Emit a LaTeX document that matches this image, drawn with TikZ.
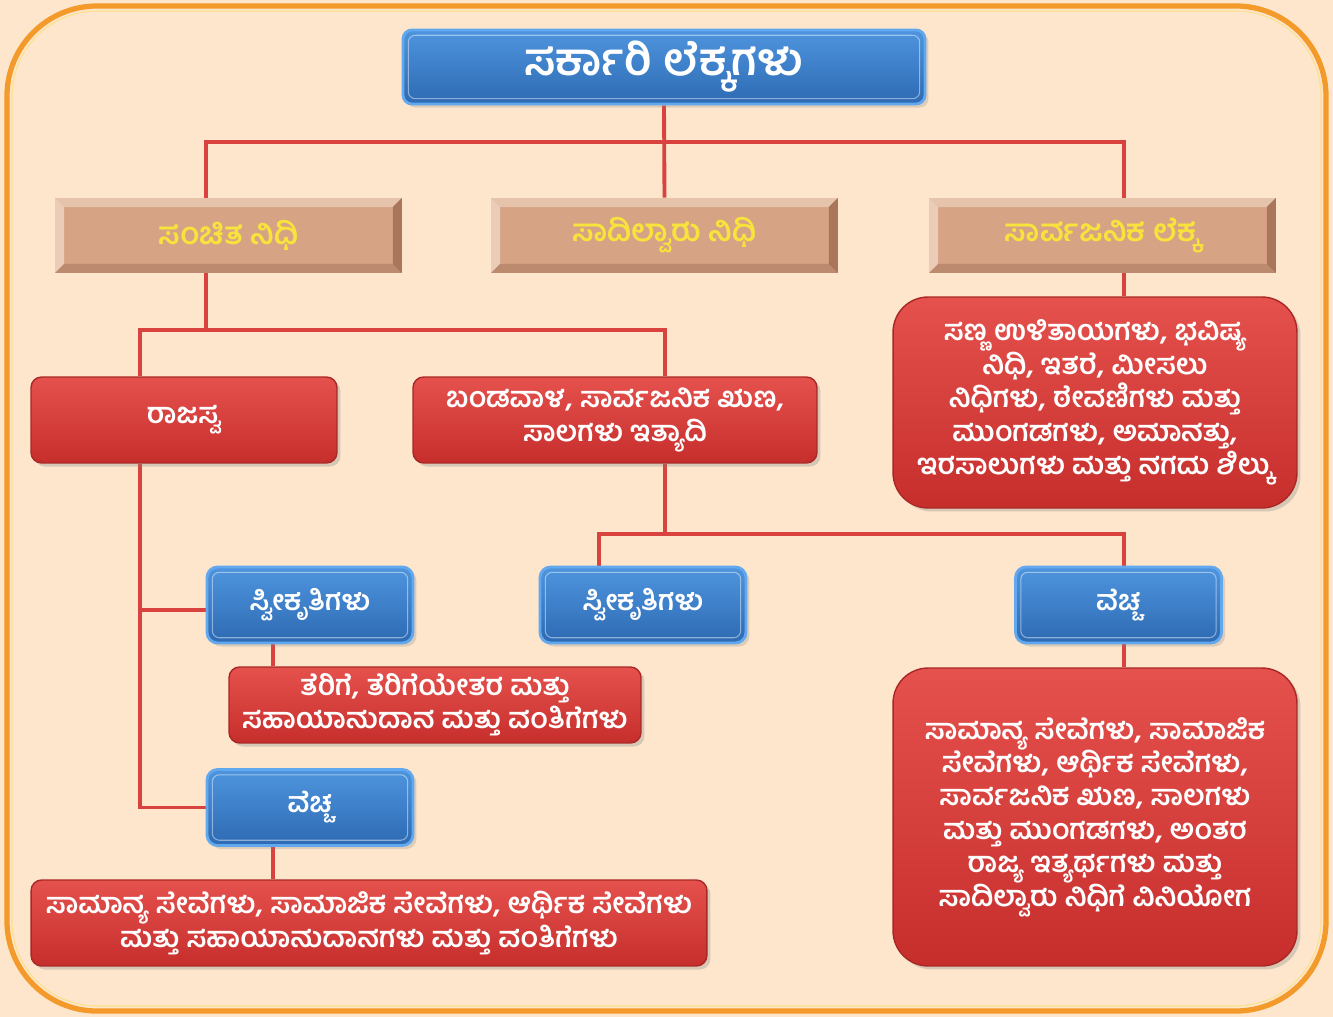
\documentclass[tikz,border=0pt]{standalone}
\usepackage{fontspec}
\newfontfamily\kan[Script=Kannada]{Hind Mysuru}
\usetikzlibrary{positioning, backgrounds, shadows, calc}
\definecolor{pagebg}{HTML}{FDE6CC}
\definecolor{rimorange}{HTML}{F39A2B}
\definecolor{rimyellow}{HTML}{FBD35A}
\definecolor{linkred}{HTML}{D8433F}
\definecolor{redtop}{HTML}{E5514D}
\definecolor{redbot}{HTML}{C62E2C}
\definecolor{rededge}{HTML}{A92825}
\definecolor{bluetop}{HTML}{4E95DE}
\definecolor{bluebot}{HTML}{2D6AB3}
\definecolor{blueedge}{HTML}{62A8EE}
\definecolor{tanface}{HTML}{D6A385}
\definecolor{tanlight}{HTML}{E6C3AB}
\definecolor{tandark}{HTML}{A9765C}
\definecolor{tanlow}{HTML}{BC8A6E}
\definecolor{goldtext}{HTML}{F8E33C}

\begin{document}
\begin{tikzpicture}[
    x=0.02cm, y=-0.02cm,
    every node/.style = {font=\kan\bfseries, align=center, inner sep=2pt},
    headbox/.style = {rounded corners=5pt, top color=bluetop, bottom color=bluebot,
                      draw=blueedge, line width=1.6pt, text=white,
                      minimum width=10.44cm, minimum height=1.48cm,
                      font=\kan\bfseries\fontsize{25.5}{28}\selectfont,
                      drop shadow={opacity=0.25, shadow xshift=2pt, shadow yshift=-2pt},
                      path picture={\draw[white, opacity=0.45, line width=0.6pt, rounded corners=4pt]
                        ([shift={(3pt,-3pt)}]path picture bounding box.north west) rectangle
                        ([shift={(-3pt,3pt)}]path picture bounding box.south east);}},
    fundbox/.style = {fill=tanface, text=goldtext, inner sep=0pt,
                      minimum width=6.94cm, minimum height=1.5cm,
                      font=\kan\bfseries\fontsize{17.5}{20}\selectfont,
                      path picture={
                        \path (path picture bounding box.north west) coordinate (bnw)
                              (path picture bounding box.south east) coordinate (bse);
                        \fill[tanlight] (bnw) -- (bnw -| bse) -- ([shift={(-0.18cm,-0.18cm)}]bnw -| bse)
                              -- ([shift={(0.18cm,-0.18cm)}]bnw) -- cycle;
                        \fill[tanlight!85!white] (bnw) -- (bnw |- bse) -- ([shift={(0.18cm,0.18cm)}]bnw |- bse)
                              -- ([shift={(0.18cm,-0.18cm)}]bnw) -- cycle;
                        \fill[tanlow] (bse) -- (bnw |- bse) -- ([shift={(0.18cm,0.18cm)}]bnw |- bse)
                              -- ([shift={(-0.18cm,0.18cm)}]bse) -- cycle;
                        \fill[tandark] (bse) -- (bnw -| bse) -- ([shift={(-0.18cm,-0.18cm)}]bnw -| bse)
                              -- ([shift={(-0.18cm,0.18cm)}]bse) -- cycle;}},
    partbox/.style = {rounded corners=6pt, top color=redtop, bottom color=redbot,
                      draw=rededge, line width=0.8pt, text=white,
                      font=\kan\bfseries\fontsize{16.2}{19}\selectfont,
                      drop shadow={opacity=0.3, shadow xshift=2pt, shadow yshift=-2pt}},
    bigpart/.style = {partbox, rounded corners=20pt},
    flowbox/.style = {rounded corners=6pt, top color=bluetop, bottom color=bluebot,
                      draw=blueedge, line width=1.6pt, text=white,
                      minimum width=4.12cm, minimum height=1.52cm,
                      font=\kan\bfseries\fontsize{16}{19}\selectfont,
                      drop shadow={opacity=0.25, shadow xshift=2pt, shadow yshift=-2pt},
                      path picture={\draw[white, opacity=0.45, line width=0.6pt, rounded corners=4pt]
                        ([shift={(3pt,-3pt)}]path picture bounding box.north west) rectangle
                        ([shift={(-3pt,3pt)}]path picture bounding box.south east);}},
    link/.style = {draw=linkred, line width=2.2pt},
]
\useasboundingbox (0,0) rectangle (1333,1017);

% top
\node[headbox] (govacc) at (664,67) {\raisebox{-2pt}{ಸರ್ಕಾರಿ ಲೆಕ್ಕಗಳು}};

% three funds
\node[fundbox] (consol) at (228.5,235.5) {ಸಂಚಿತ ನಿಧಿ};
\node[fundbox] (conting) at (664.5,235.5) {ಸಾದಿಲ್ವಾರು ನಿಧಿ};
\node[fundbox] (public) at (1102.5,235.5) {ಸಾರ್ವಜನಿಕ ಲೆಕ್ಕ};

% consolidated fund parts
\node[partbox, minimum width=6.12cm, minimum height=1.72cm] (revenue) at (184,420) {ರಾಜಸ್ವ};
\node[partbox, minimum width=8.08cm, minimum height=1.72cm] (capital) at (615,420)
    {ಬಂಡವಾಳ, ಸಾರ್ವಜನಿಕ ಋಣ,\\ ಸಾಲಗಳು ಇತ್ಯಾದಿ};
\node[bigpart, minimum width=8.08cm, minimum height=4.22cm] (pubitems) at (1095,402.5)
    {ಸಣ್ಣ ಉಳಿತಾಯಗಳು, ಭವಿಷ್ಯ\\ ನಿಧಿ, ಇತರೆ, ಮೀಸಲು\\ ನಿಧಿಗಳು, ಠೇವಣಿಗಳು ಮತ್ತು\\
     ಮುಂಗಡಗಳು, ಅಮಾನತ್ತು,\\ ಇರಸಾಲುಗಳು ಮತ್ತು ನಗದು ಶಿಲ್ಕು};

% revenue side
\node[flowbox] (revin) at (310,605) {ಸ್ವೀಕೃತಿಗಳು};
\node[partbox, minimum width=8.24cm, minimum height=1.52cm] (revinlist) at (435,705)
    {ತೆರಿಗೆ, ತೆರಿಗೆಯೇತರ ಮತ್ತು\\ ಸಹಾಯಾನುದಾನ ಮತ್ತು ವಂತಿಗೆಗಳು};
\node[flowbox] (revout) at (310,807.5) {ವೆಚ್ಚ};
\node[partbox, minimum width=13.52cm, minimum height=1.72cm] (revoutlist) at (369,923)
    {ಸಾಮಾನ್ಯ ಸೇವೆಗಳು, ಸಾಮಾಜಿಕ ಸೇವೆಗಳು, ಆರ್ಥಿಕ ಸೇವೆಗಳು\\ ಮತ್ತು ಸಹಾಯಾನುದಾನಗಳು ಮತ್ತು ವಂತಿಗೆಗಳು};

% capital side
\node[flowbox] (capin) at (643,605) {ಸ್ವೀಕೃತಿಗಳು};
\node[flowbox] (capout) at (1118.5,605) {ವೆಚ್ಚ};
\node[bigpart, minimum width=8.08cm, minimum height=5.96cm] (capoutlist) at (1095,817)
    {ಸಾಮಾನ್ಯ ಸೇವೆಗಳು, ಸಾಮಾಜಿಕ\\ ಸೇವೆಗಳು, ಆರ್ಥಿಕ ಸೇವೆಗಳು,\\ ಸಾರ್ವಜನಿಕ ಋಣ, ಸಾಲಗಳು\\
     ಮತ್ತು ಮುಂಗಡಗಳು, ಅಂತರ\\ ರಾಜ್ಯ ಇತ್ಯರ್ಥಗಳು ಮತ್ತು\\ ಸಾದಿಲ್ವಾರು ನಿಧಿಗೆ ವಿನಿಯೋಗ};

\begin{scope}[on background layer]
% page and rim
\fill[pagebg] (0,0) rectangle (1333,1017);
\draw[rimorange, line width=3pt, rounded corners=1.8cm] (7,6) rectangle (1326,1011);
\draw[rimyellow!70!white, line width=0.6pt, rounded corners=1.7cm] (12,11) rectangle (1321,1006);

% links
\coordinate (bus1) at ($(govacc.south)+(0,-0.74cm)$);
\draw[link] (govacc.south) -- (conting.north);
\draw[link] ([xshift=-0.45cm]consol.north) |- (bus1) -| ([xshift=0.43cm]public.north);
\draw[link] ([xshift=0.43cm]public.south) -- ([xshift=0.43cm]public.south |- pubitems.north);

\coordinate (bus2) at ($([xshift=-0.45cm]consol.south)+(0,-1.14cm)$);
\draw[link] ([xshift=-0.45cm]consol.south) -- (bus2);
\draw[link] ([xshift=-0.88cm]revenue.north) |- (bus2) -| ([xshift=1cm]capital.north);

\coordinate (spine) at ([xshift=-0.88cm]revenue.south);
\draw[link] (spine) |- (revout.west);
\draw[link] ([yshift=-0.1cm]revin.west) -- ([yshift=-0.1cm]revin.west -| spine);
\draw[link] ([xshift=-0.74cm]revin.south) -- ([xshift=-0.74cm]revin.south |- revinlist.north);
\draw[link] ([xshift=-0.74cm]revout.south) -- ([xshift=-0.74cm]revout.south |- revoutlist.north);

\coordinate (bus3) at ($([xshift=1cm]capital.south)+(0,-1.4cm)$);
\draw[link] ([xshift=1cm]capital.south) -- (bus3);
\draw[link] ([xshift=-0.88cm]capin.north) |- (bus3) -| ([xshift=0.11cm]capout.north);
\draw[link] ([xshift=0.11cm]capout.south) -- ([xshift=0.11cm]capout.south |- capoutlist.north);
\end{scope}
\end{tikzpicture}
\end{document}
